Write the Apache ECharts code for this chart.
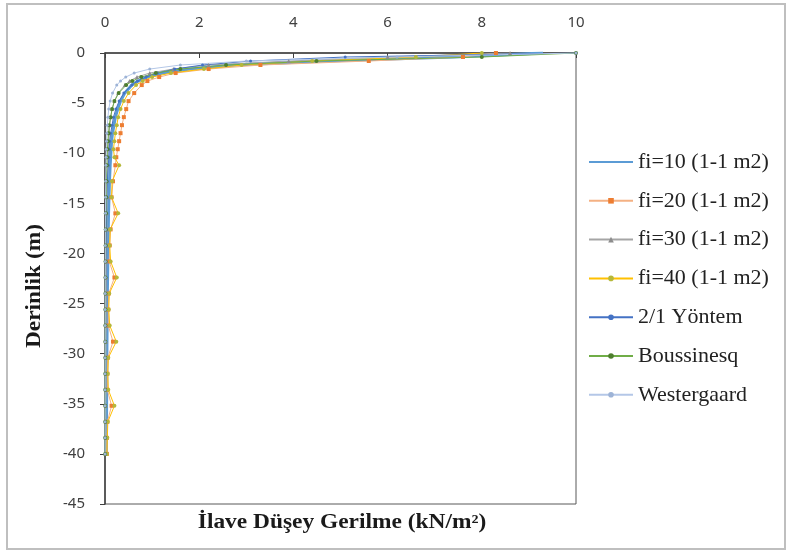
<!DOCTYPE html>
<html>
<head>
<meta charset="utf-8">
<script src="https://cdn.jsdelivr.net/npm/echarts@6/dist/echarts.min.js"></script>
<style>
  html, body { margin: 0; padding: 0; background: #fff; }
  #chart { width: 792px; height: 555px; }
</style>
</head>
<body>
<div id="chart"></div>
<script>
// Depth below the footing (m), shared by every profile
const depths = [0, -0.4, -0.8, -1.2, -1.6, -2.0, -2.4, -2.8, -3.2, -4.0, -4.8, -5.6, -6.4, -7.2, -8.0, -8.8, -9.6, -10.4, -11.2, -12.8, -14.4, -16.0, -17.6, -19.2, -20.8, -22.4, -24.0, -25.6, -27.2, -28.8, -30.4, -32.0, -33.6, -35.2, -36.8, -38.4, -40.0];

// Additional vertical stress (kN/m²) for each method
const fi10 = [9.3, 7.4, 4.7, 2.75, 1.8, 1.22, 0.9, 0.7, 0.57, 0.42, 0.33, 0.27, 0.22, 0.19, 0.16, 0.14, 0.13, 0.12, 0.11, 0.095, 0.085, 0.075, 0.07, 0.065, 0.06, 0.055, 0.05, 0.048, 0.045, 0.042, 0.04, 0.038, 0.036, 0.034, 0.032, 0.03, 0.03];
const fi20 = [8.3, 7.6, 5.6, 3.3, 2.2, 1.5, 1.15, 0.9, 0.78, 0.62, 0.5, 0.45, 0.4, 0.36, 0.33, 0.3, 0.27, 0.24, 0.22, 0.17, 0.14, 0.22, 0.12, 0.1, 0.09, 0.2, 0.08, 0.07, 0.07, 0.17, 0.06, 0.05, 0.05, 0.14, 0.05, 0.04, 0.04];
const fi30 = [8.6, 6.0, 3.9, 2.2, 1.45, 0.95, 0.68, 0.52, 0.42, 0.28, 0.2, 0.15, 0.12, 0.1, 0.09, 0.08, 0.07, 0.06, 0.06, 0.05, 0.045, 0.04, 0.04, 0.035, 0.03, 0.03, 0.03, 0.025, 0.025, 0.02, 0.02, 0.02, 0.02, 0.015, 0.015, 0.015, 0.01];
const fi40 = [8.0, 6.6, 4.4, 2.9, 2.1, 1.4, 1.0, 0.8, 0.66, 0.5, 0.4, 0.33, 0.28, 0.25, 0.22, 0.2, 0.18, 0.2, 0.3, 0.15, 0.14, 0.28, 0.11, 0.1, 0.12, 0.25, 0.09, 0.08, 0.1, 0.24, 0.07, 0.06, 0.07, 0.2, 0.06, 0.05, 0.04];
const yontem21 = [10, 5.1, 3.09, 2.07, 1.48, 1.11, 0.87, 0.69, 0.57, 0.4, 0.3, 0.23, 0.18, 0.15, 0.12, 0.1, 0.09, 0.08, 0.07, 0.05, 0.04, 0.035, 0.03, 0.025, 0.02, 0.018, 0.016, 0.014, 0.013, 0.011, 0.01, 0.009, 0.008, 0.008, 0.007, 0.007, 0.006];
const boussinesq = [10, 8.0, 4.49, 2.57, 1.6, 1.08, 0.77, 0.58, 0.45, 0.29, 0.2, 0.15, 0.12, 0.09, 0.075, 0.062, 0.052, 0.044, 0.038, 0.029, 0.023, 0.019, 0.015, 0.013, 0.011, 0.0095, 0.0083, 0.0073, 0.0065, 0.0058, 0.0052, 0.0047, 0.0042, 0.0038, 0.0035, 0.0032, 0.003];
const westergaard = [10, 6.2, 3.0, 1.6, 0.95, 0.62, 0.44, 0.33, 0.25, 0.16, 0.11, 0.08, 0.062, 0.049, 0.04, 0.033, 0.028, 0.024, 0.02, 0.016, 0.012, 0.01, 0.008, 0.007, 0.006, 0.005, 0.0045, 0.004, 0.0035, 0.003, 0.003, 0.0025, 0.0025, 0.002, 0.002, 0.002, 0.002];

const seriesNames = ['fi=10 (1-1 m2)', 'fi=20 (1-1 m2)', 'fi=30 (1-1 m2)', 'fi=40 (1-1 m2)', '2/1 Yöntem', 'Boussinesq', 'Westergaard'];
const xTicks = { min: 0, max: 10, interval: 2 };
const yTicks = { min: -45, max: 0, interval: 5 };

const pairs = vals => vals.map((v, i) => [v, depths[i]]);

const chart = echarts.init(document.getElementById('chart'), null, { renderer: 'canvas' });

function lineSeries(name, vals, color, width, symbol, symColor, symSize) {
  return {
    name: name,
    type: 'line',
    data: pairs(vals),
    symbol: symbol,
    symbolSize: symSize,
    showSymbol: symbol !== 'none',
    lineStyle: { color: color, width: width },
    itemStyle: { color: symColor, borderColor: symColor, borderWidth: 0 },
    emphasis: { disabled: true },
    animation: false
  };
}

const serifFont = '"Liberation Serif", "Times New Roman", serif';
const sansFont = '"Noto Sans", "Liberation Sans", sans-serif';

chart.setOption({
  backgroundColor: '#ffffff',
  animation: false,
  grid: {
    left: 105, right: 216, top: 53, bottom: 51,
    show: true, borderColor: '#595959', borderWidth: 1, backgroundColor: 'transparent'
  },
  xAxis: {
    type: 'value', position: 'top',
    min: xTicks.min, max: xTicks.max, interval: xTicks.interval,
    axisLine: { show: true, lineStyle: { color: '#404040', width: 1.5 } },
    axisTick: { show: true, inside: true, length: 5, lineStyle: { color: '#404040' } },
    axisLabel: { color: '#404040', fontFamily: sansFont, fontSize: 15, margin: 23 },
    splitLine: { show: false }
  },
  yAxis: {
    type: 'value',
    min: yTicks.min, max: yTicks.max, interval: yTicks.interval,
    axisLine: { show: true, lineStyle: { color: '#404040', width: 1.5 } },
    axisTick: { show: true, inside: false, length: 5, lineStyle: { color: '#404040' } },
    axisLabel: { color: '#404040', fontFamily: sansFont, fontSize: 15, margin: 20 },
    splitLine: { show: false }
  },
  legend: {
    orient: 'vertical',
    left: 583, top: 146,
    itemWidth: 44, itemHeight: 7, itemGap: 16.8,
    textStyle: { fontFamily: serifFont, fontSize: 22, color: '#222' },
    data: seriesNames.map((n, i) => i === 0 ? { name: n, itemStyle: { opacity: 0 } } : { name: n })
  },
  graphic: [
    {
      type: 'rect', silent: true, z: -10,
      shape: { x: 7, y: 4, width: 778, height: 545 },
      style: { fill: 'none', stroke: '#bfbfbf', lineWidth: 2 }
    },
    {
      type: 'text', silent: true,
      x: 342, y: 523, scaleX: 1.17,
      style: {
        text: 'İlave Düşey Gerilme (kN/m²)', font: 'bold 20px ' + serifFont,
        fill: '#1a1a1a', textAlign: 'center', textVerticalAlign: 'middle'
      }
    },
    {
      type: 'text', silent: true,
      x: 35, y: 286, rotation: Math.PI / 2, scaleX: 1.17,
      style: {
        text: 'Derinlik (m)', font: 'bold 20px ' + serifFont,
        fill: '#1a1a1a', textAlign: 'center', textVerticalAlign: 'middle'
      }
    }
  ],
  series: [
    lineSeries(seriesNames[0], fi10, '#5B9BD5', 3, 'none', '#5B9BD5', 0),
    lineSeries(seriesNames[1], fi20, '#F4B183', 1, 'rect', '#ED7D31', 4),
    lineSeries(seriesNames[2], fi30, '#A5A5A5', 1, 'triangle', '#8C8C8C', 4),
    lineSeries(seriesNames[3], fi40, '#FFC000', 1, 'circle', '#B5B83A', 4),
    lineSeries(seriesNames[4], yontem21, '#4472C4', 1, 'circle', '#4472C4', 3),
    lineSeries(seriesNames[5], boussinesq, '#70AD47', 1, 'circle', '#4E7F2E', 4),
    lineSeries(seriesNames[6], westergaard, '#B4C7E7', 1, 'circle', '#9DB3D6', 3)
  ]
});
</script>
</body>
</html>
